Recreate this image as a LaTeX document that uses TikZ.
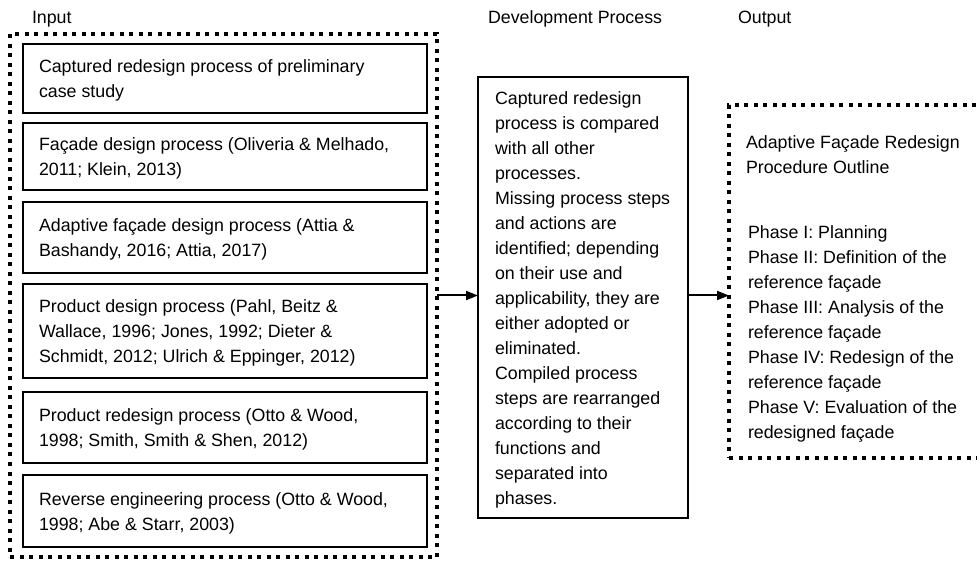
\documentclass[tikz,border=0pt]{standalone}
\usepackage{fontspec}
\setmainfont{Liberation Sans}
\usetikzlibrary{arrows.meta,calc}
\begin{document}
\begin{tikzpicture}[x=1pt,y=-1pt,
  every node/.style={font=\fontsize{17.8}{25}\selectfont, outer sep=0pt},
  dotframe/.style={draw, line width=4pt, dash pattern=on 4pt off 5.5pt, anchor=north west, inner sep=0pt},
  srcbox/.style={draw, line width=1.6pt, minimum width=404pt, anchor=north west, inner sep=0pt},
  txt/.style={anchor=west, align=left, inner sep=0pt},
  lbl/.style={anchor=base west, inner sep=0pt},
  arr/.style={-{Triangle[length=12pt,width=9pt]}, line width=2pt}
]
\useasboundingbox (0,0) rectangle (977,561);

% column headings
\node[lbl] (hin)  at (32,24)  {Input};
\node[lbl] (hdev) at (488,24) {Development Process};
\node[lbl] (hout) at (738,24) {Output};

% input group
\node[dotframe, minimum width=427pt, minimum height=523pt] (inbox) at (10,34) {};

\node[srcbox, minimum height=69pt] (s1) at (23,44) {};
\node[txt] (s1t) at ($(s1.west)+(16,2)$) {Captured redesign process of preliminary\\case study};

\node[srcbox, minimum height=67pt] (s2) at (23,123) {};
\node[txt] (s2t) at ($(s2.west)+(16,2)$) {Façade design process (Oliveria \& Melhado,\\2011; Klein, 2013)};

\node[srcbox, minimum height=71pt] (s3) at (23,202) {};
\node[txt] (s3t) at ($(s3.west)+(16,2)$) {Adaptive façade design process (Attia \&\\Bashandy, 2016; Attia, 2017)};

\node[srcbox, minimum height=94pt] (s4) at (23,284) {};
\node[txt] (s4t) at ($(s4.west)+(16,2)$) {Product design process (Pahl, Beitz \&\\Wallace, 1996; Jones, 1992; Dieter \&\\Schmidt, 2012; Ulrich \& Eppinger, 2012)};

\node[srcbox, minimum height=71pt] (s5) at (23,392) {};
\node[txt] (s5t) at ($(s5.west)+(16,2)$) {Product redesign process (Otto \& Wood,\\1998; Smith, Smith \& Shen, 2012)};

\node[srcbox, minimum height=72pt] (s6) at (23,475) {};
\node[txt] (s6t) at ($(s6.west)+(16,2)$) {Reverse engineering process (Otto \& Wood,\\1998; Abe \& Starr, 2003)};

% development process
\node[srcbox, minimum width=210pt, minimum height=441pt] (mid) at (478,77) {};
\node[txt] (midt) at ($(mid.west)+(17,2)$) {Captured redesign\\process is compared\\with all other\\processes.\\Missing process steps\\and actions are\\identified; depending\\on their use and\\applicability, they are\\either adopted or\\eliminated.\\Compiled process\\steps are rearranged\\according to their\\functions and\\separated into\\phases.};

% output group
\node[dotframe, minimum width=270pt, minimum height=353pt] (outbox) at (729,105) {};
\node[txt] (otitle) at (746,155) {Adaptive Façade Redesign\\Procedure Outline};
\node[txt] (ophase) at (748,334) {Phase I: Planning\\Phase II: Definition of the\\reference façade\\Phase III: Analysis of the\\reference façade\\Phase IV: Redesign of the\\reference façade\\Phase V: Evaluation of the\\redesigned façade};

% connectors
\draw[arr] (inbox.east) -- (mid.west |- inbox.east);
\draw[arr] (mid.east |- inbox.east) -- (outbox.west |- inbox.east);
\end{tikzpicture}
\end{document}
